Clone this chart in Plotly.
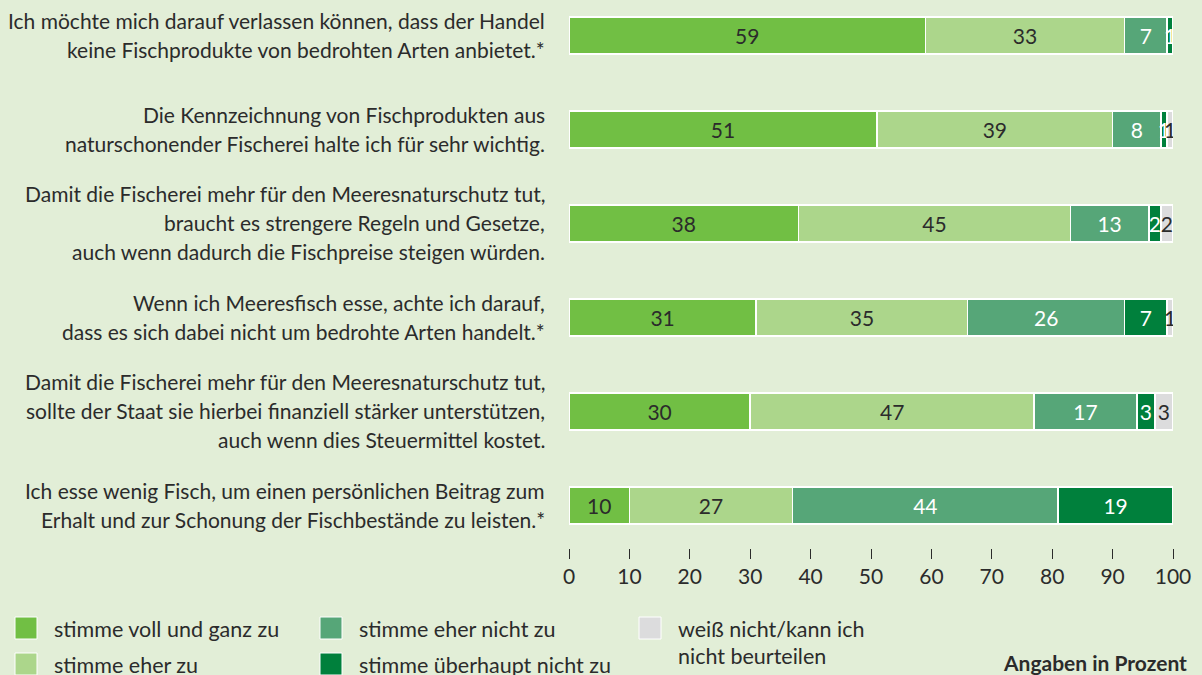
import plotly.graph_objects as go

# Daten
aussagen = [
    "Ich möchte mich darauf verlassen können, dass der Handel<br>keine Fischprodukte von bedrohten Arten anbietet.*",
    "Die Kennzeichnung von Fischprodukten aus<br>naturschonender Fischerei halte ich für sehr wichtig.",
    "Damit die Fischerei mehr für den Meeresnaturschutz tut,<br>braucht es strengere Regeln und Gesetze,<br>auch wenn dadurch die Fischpreise steigen würden.",
    "Wenn ich Meeresfisch esse, achte ich darauf,<br>dass es sich dabei nicht um bedrohte Arten handelt.*",
    "Damit die Fischerei mehr für den Meeresnaturschutz tut,<br>sollte der Staat sie hierbei finanziell stärker unterstützen,<br>auch wenn dies Steuermittel kostet.",
    "Ich esse wenig Fisch, um einen persönlichen Beitrag zum<br>Erhalt und zur Schonung der Fischbestände zu leisten.*",
]

voll_und_ganz = [59, 51, 38, 31, 30, 10]
eher_zu = [33, 39, 45, 35, 47, 27]
eher_nicht = [7, 8, 13, 26, 17, 44]
ueberhaupt_nicht = [1, 1, 2, 7, 3, 19]
weiss_nicht = [0, 1, 2, 1, 3, 0]

kategorien = [
    "stimme voll und ganz zu",
    "stimme eher zu",
    "stimme eher nicht zu",
    "stimme überhaupt nicht zu",
    "weiß nicht/kann ich<br>nicht beurteilen",
]
x_ticks = [0, 10, 20, 30, 40, 50, 60, 70, 80, 90, 100]

# Farben
farben = ["#71bf44", "#acd68b", "#56a678", "#00803c", "#dcdcdd"]
textfarben = ["#2b2b2b", "#2b2b2b", "#ffffff", "#ffffff", "#2b2b2b"]
hintergrund = "#e2eed7"
schrift = "Lato"

# Layout in Pixeln
W, H = 1202, 675
L, R, T, B = 569, 29, 10, 127
plot_w = W - L - R
plot_h = H - T - B


def px(x):
    return (x - L) / plot_w


def py(y):
    return (H - B - y) / plot_h


fig = go.Figure()

serien = [voll_und_ganz, eher_zu, eher_nicht, ueberhaupt_nicht, weiss_nicht]
for name, werte, farbe, tf in zip(kategorien, serien, farben, textfarben):
    fig.add_trace(go.Bar(
        y=list(range(len(aussagen))),
        x=werte,
        orientation="h",
        name=name,
        width=0.39,
        marker=dict(color=farbe, line=dict(color="white", width=1.5)),
        text=[str(v) if v > 0 else "" for v in werte],
        textposition="inside",
        insidetextanchor="middle",
        textangle=0,
        textfont=dict(color=tf, size=21, family=schrift),
        showlegend=False,
        hovertemplate="%{x}<extra>" + name + "</extra>",
    ))

# Aussagen links, zeilenweise
annotations = []
for i, txt in enumerate(aussagen):
    zeilen = txt.split("<br>")
    n = len(zeilen)
    for j, z in enumerate(zeilen):
        annotations.append(dict(
            x=0, xref="paper", xanchor="right", xshift=-22,
            y=i, yref="y", yanchor="middle",
            yshift=((n - 1) / 2 - j) * 29 + 1,
            text=z, showarrow=False,
            font=dict(size=21, color="#2b2b2b", family=schrift),
        ))

# Legende (manuell)
shapes = []
legende_pos = [(15, 628), (15, 664), (320, 628), (320, 664), (639, 628)]
for (lx, ly), name, farbe in zip(legende_pos, kategorien, farben):
    shapes.append(dict(
        type="rect", xref="paper", yref="paper",
        x0=px(lx), x1=px(lx + 22), y0=py(ly + 11), y1=py(ly - 11),
        fillcolor=farbe, line=dict(color="white", width=1),
    ))
    zeilen = name.split("<br>")
    for j, z in enumerate(zeilen):
        annotations.append(dict(
            x=px(lx + 37), xref="paper", xanchor="left",
            y=py(ly + 1 + j * 27), yref="paper", yanchor="middle",
            text=z, showarrow=False,
            font=dict(size=21.5, color="#2b2b2b", family=schrift),
        ))

annotations.append(dict(
    x=px(1189), xref="paper", xanchor="right",
    y=py(662), yref="paper", yanchor="middle",
    text="<b>Angaben in Prozent</b>", showarrow=False,
    font=dict(size=21, color="#2b2b2b", family=schrift),
))

fig.update_layout(
    barmode="stack",
    width=W, height=H,
    margin=dict(l=L, r=R, t=T, b=B),
    paper_bgcolor=hintergrund,
    plot_bgcolor=hintergrund,
    font=dict(family=schrift, size=21, color="#2b2b2b"),
    uniformtext=dict(minsize=21, mode="show"),
    annotations=annotations,
    shapes=shapes,
    xaxis=dict(
        range=[0, 100],
        tickvals=x_ticks,
        ticks="outside", ticklen=10, tickwidth=1, tickcolor="#2b2b2b",
        showgrid=False, zeroline=False, showline=False,
        tickfont=dict(size=21, color="#2b2b2b"),
    ),
    yaxis=dict(
        range=[(H - B - 35.5) / 94, (T - 35.5) / 94],
        showticklabels=False, showgrid=False, zeroline=False,
    ),
)

fig.write_html(
    "out.html",
    config={"displayModeBar": False},
    post_script="document.body.style.margin='0';",
)
